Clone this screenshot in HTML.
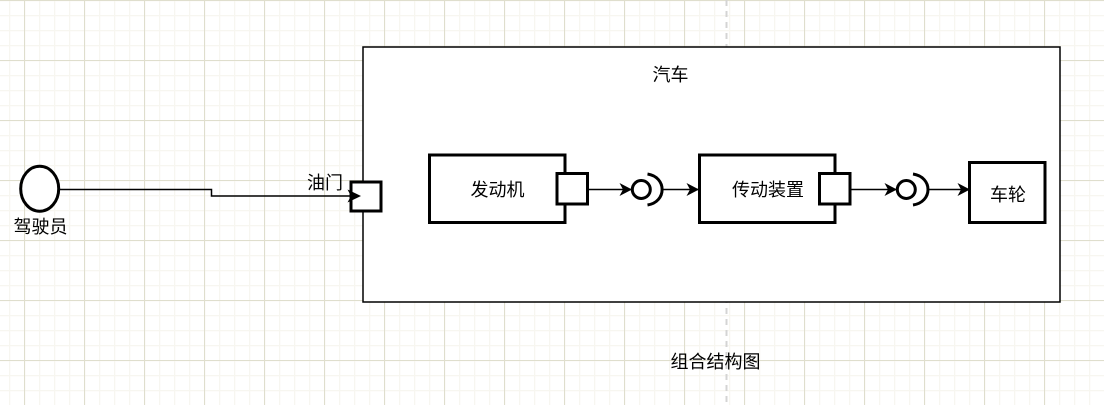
<!DOCTYPE html>
<html><head><meta charset="utf-8"><style>
html,body{margin:0;padding:0;background:#fff;width:1104px;height:405px;overflow:hidden}
svg{display:block}
text{font-family:"Liberation Sans","Noto Sans CJK SC",sans-serif;font-size:18px;fill:#000}
</style></head><body>
<svg width="1104" height="405" viewBox="0 0 1104 405" xmlns="http://www.w3.org/2000/svg">
<defs>
<pattern id="minor" width="15" height="15" patternUnits="userSpaceOnUse" x="9" y="0">
<path d="M.5 0V15M0 .5H15" stroke="#f7f6f0" stroke-width="1.5" fill="none"/>
</pattern>
<pattern id="major" width="60" height="60" patternUnits="userSpaceOnUse" x="24" y="0">
<path d="M.5 0V60M0 .5H60" stroke="#dfdecd" stroke-width="1.1" fill="none"/>
</pattern>
<marker id="a" markerWidth="15" markerHeight="14" refX="12.5" refY="7" orient="auto" markerUnits="userSpaceOnUse">
<path d="M0 .5L12.5 7L0 13.5L3.5 7Z" fill="#000"/>
</marker>
</defs>
<rect width="1104" height="405" fill="#fff"/>
<rect width="1104" height="405" fill="url(#minor)"/>
<rect width="1104" height="405" fill="url(#major)"/>
<path d="M726.5 0V405" stroke="#d4d4d4" stroke-width="2" stroke-dasharray="6 5" fill="none"/>

<rect x="363" y="47" width="697" height="255" fill="#fff" stroke="#000" stroke-width="1.5"/>

<ellipse cx="39.7" cy="188.7" rx="19" ry="22.5" fill="#fff" stroke="#000" stroke-width="3"/>
<path d="M59 189.5H211.5V196H359" fill="none" stroke="#000" stroke-width="1.5"/>
<rect x="351" y="182" width="30" height="29" fill="#fff" stroke="#000" stroke-width="3"/>
<path d="M347.5 189.5L361 196L347.5 202.5L351 196Z" fill="#000"/>

<rect x="429.5" y="155" width="135.5" height="67.5" fill="#fff" stroke="#000" stroke-width="3"/>
<rect x="557" y="173.5" width="30.5" height="30.5" fill="#fff" stroke="#000" stroke-width="3"/>
<path d="M588 189.5H632" stroke="#000" stroke-width="1.5" fill="none" marker-end="url(#a)"/>
<circle cx="641.3" cy="189.5" r="9" fill="#fff" stroke="#000" stroke-width="3"/>
<path d="M647.5 174C667 177 667 202 647.5 205" fill="none" stroke="#000" stroke-width="3"/>
<path d="M662 189.5H699" stroke="#000" stroke-width="1.5" fill="none" marker-end="url(#a)"/>

<rect x="699.5" y="155" width="135.5" height="67.5" fill="#fff" stroke="#000" stroke-width="3"/>
<rect x="819.5" y="173.5" width="30.5" height="30.5" fill="#fff" stroke="#000" stroke-width="3"/>
<path d="M851 189.5H897" stroke="#000" stroke-width="1.5" fill="none" marker-end="url(#a)"/>
<circle cx="906.3" cy="189.5" r="9" fill="#fff" stroke="#000" stroke-width="3"/>
<path d="M913 174C933 177 933 202 913 205" fill="none" stroke="#000" stroke-width="3"/>
<path d="M928 189.5H970" stroke="#000" stroke-width="1.5" fill="none" marker-end="url(#a)"/>

<rect x="969.5" y="162.5" width="75.5" height="60" fill="#fff" stroke="#000" stroke-width="3"/>

<text x="652.5" y="81">汽车</text>
<text x="307" y="189">油门</text>
<text x="13.5" y="233">驾驶员</text>
<text x="470.5" y="196">发动机</text>
<text x="732" y="196">传动装置</text>
<text x="990" y="201">车轮</text>
<text x="670.5" y="368">组合结构图</text>
</svg>
</body></html>
